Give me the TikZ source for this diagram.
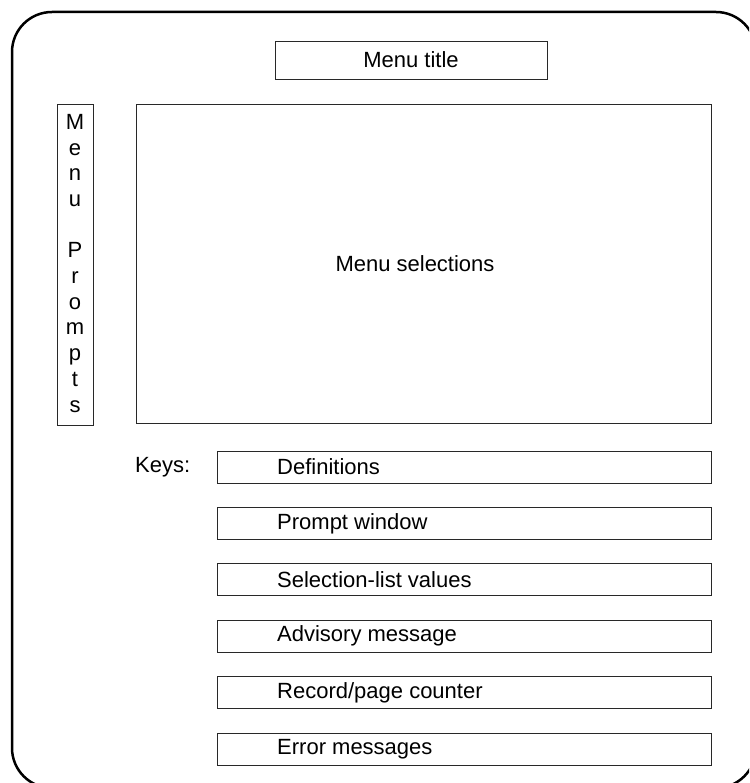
\documentclass[tikz,border=0pt]{standalone}
\usepackage{fontspec}
\setmainfont{Liberation Sans}
\usepackage{tikz}

\begin{document}
\begin{tikzpicture}[x=1pt,y=1pt,yscale=-1,xscale=1,
  boxline/.style={draw={rgb,255:red,40;green,40;blue,40},line width=0.9pt},
  lbl/.style={inner sep=0pt,font=\fontsize{22}{25.7}\selectfont}]
\clip (0,0) rectangle (749,783); %diagram is 749 wide and 783 high

%Shape: Rounded Rectangle [outer frame]
\draw  [line width=2.5pt,rounded corners=40pt] (12,12) rectangle (756,788) ;
%Shape: Rectangle [title]
\draw  [boxline] (275,41) rectangle (547,79) ;
%Shape: Rectangle [prompts]
\draw  [boxline] (57,104) rectangle (93,425) ;
%Shape: Rectangle [selections]
\draw  [boxline] (136,104) rectangle (711,423) ;
%Shape: Rectangle [definitions]
\draw  [boxline] (217,451) rectangle (711,483) ;
%Shape: Rectangle [prompt window]
\draw  [boxline] (217,507.4) rectangle (711,539.4) ;
%Shape: Rectangle [selection-list values]
\draw  [boxline] (217,563.8) rectangle (711,595.8) ;
%Shape: Rectangle [advisory]
\draw  [boxline] (217,620.2) rectangle (711,652.2) ;
%Shape: Rectangle [counter]
\draw  [boxline] (217,676.6) rectangle (711,708.6) ;
%Shape: Rectangle [errors]
\draw  [boxline] (217,733) rectangle (711,765) ;

% Text Node
\node [lbl] (menutitle) at (411,60) {Menu title};
% Text Node
\node [lbl,anchor=north,align=center] (menuprompts) at (75,114)
  {M\\e\\n\\u\\[25.7pt]P\\r\\o\\m\\p\\t\\s};
% Text Node
\node [lbl] (menuselections) at (415,264) {Menu selections};
% Text Node
\node [lbl,anchor=west] (keys) at (135,467) {Keys:};
% Text Node
\node [lbl,anchor=west] (definitions) at (277,467) {Definitions};
% Text Node
\node [lbl,anchor=west] (promptwindow) at (277,523.4) {Prompt window};
% Text Node
\node [lbl,anchor=west] (selectionlist) at (277,579.8) {Selection-list values};
% Text Node
\node [lbl,anchor=west] (advisory) at (277,636.2) {Advisory message};
% Text Node
\node [lbl,anchor=west] (counter) at (277,692.6) {Record/page counter};
% Text Node
\node [lbl,anchor=west] (errors) at (277,749) {Error messages};

\end{tikzpicture}
\end{document}
